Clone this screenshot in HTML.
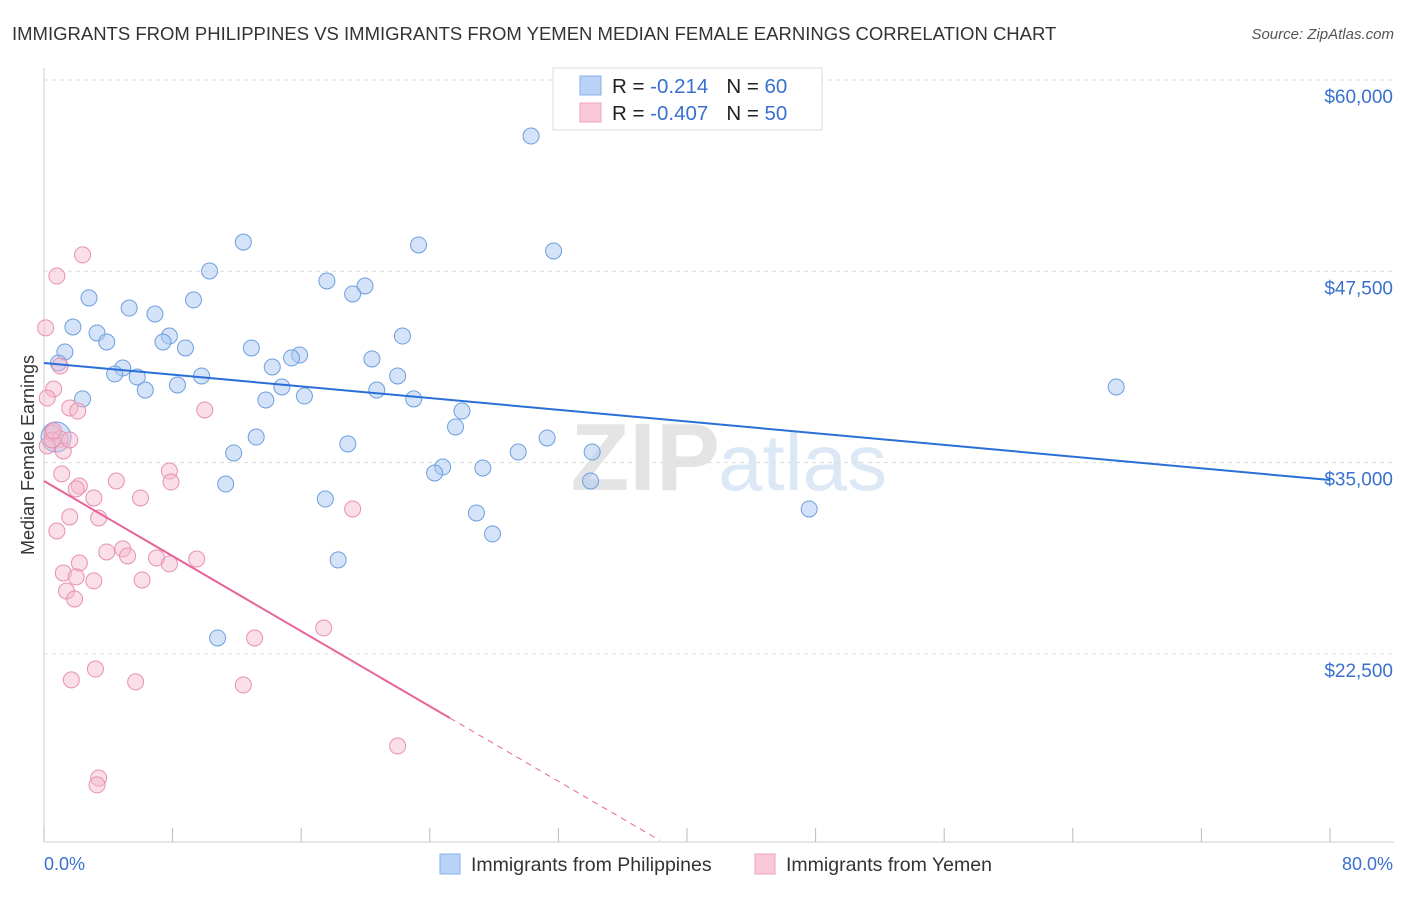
<!DOCTYPE html>
<html><head><meta charset="utf-8"><style>
body{margin:0;background:#fff;font-family:"Liberation Sans",sans-serif;}
svg text{font-family:"Liberation Sans",sans-serif;}
</style></head><body>
<svg width="1406" height="892">
<text x="12" y="40" font-size="18.5" fill="#333">IMMIGRANTS FROM PHILIPPINES VS IMMIGRANTS FROM YEMEN MEDIAN FEMALE EARNINGS CORRELATION CHART</text>
<text x="1394" y="39" font-size="15" fill="#555" text-anchor="end" font-style="italic">Source: ZipAtlas.com</text>
<text x="720" y="490" font-size="96" fill="#e4e4e4" text-anchor="end" font-family="Liberation Serif" font-weight="bold">ZIP</text>
<text x="718" y="490" font-size="80" fill="#dce8f5">atlas</text>
<g id="grid"></g>
<g id="axes"></g>
<text transform="translate(34,455) rotate(-90)" font-size="18" fill="#333" text-anchor="middle">Median Female Earnings</text>
<text x="44" y="870" font-size="18" fill="#3a70d0">0.0%</text>
<text x="1393" y="870" font-size="18" fill="#3a70d0" text-anchor="end">80.0%</text>
<g id="pts"></g>
<g id="trend"></g>
<g>
<rect x="553" y="68" width="269" height="62" fill="#fff" stroke="#ddd"/>
<rect x="580" y="76" width="21" height="19" fill="#b8d3f5" stroke="#8ab2e8"/>
<rect x="580" y="103" width="21" height="19" fill="#fac8d7" stroke="#f0a3bc"/>
<text x="612" y="93" font-size="20.5" fill="#222">R = <tspan fill="#3a70d0"> -0.214</tspan><tspan dx="18">N = </tspan><tspan fill="#3a70d0">60</tspan></text>
<text x="612" y="120" font-size="20.5" fill="#222">R = <tspan fill="#3a70d0">-0.407</tspan><tspan dx="18">N = </tspan><tspan fill="#3a70d0">50</tspan></text>
</g>
<g>
<rect x="440" y="854" width="20" height="20" fill="#b8d3f5" stroke="#8ab2e8"/>
<text x="471" y="871" font-size="19.5" fill="#333">Immigrants from Philippines</text>
<rect x="755" y="854" width="20" height="20" fill="#fac8d7" stroke="#f0a3bc"/>
<text x="786" y="871" font-size="19.5" fill="#333">Immigrants from Yemen</text>
</g>
</svg>
<script>
const yTicks=[60000,47500,35000,22500];
const yTickLabels=["$60,000","$47,500","$35,000","$22,500"];
const xTicks=[0,8,16,24,32,40,48,56,64,72,80];
const phX=[30.3,12.4,23.3,31.7,10.3,17.6,19.97,19.2,2.8,9.3,5.3,6.9,1.8,3.3,22.3,7.8,3.9,7.4,8.8,12.9,1.3,15.9,15.4,20.4,0.9,14.2,4.9,4.4,9.8,5.8,22.0,8.3,14.8,6.3,20.7,66.7,2.4,16.2,13.8,23.0,26.0,25.6,0.75,13.2,31.3,18.9,11.8,29.5,34.1,24.8,24.3,27.3,34.0,11.3,17.5,47.6,26.9,27.9,18.3,10.8];
const phY=[56340,49410,49220,48830,47520,46870,46540,46020,45760,45630,45100,44710,43860,43470,43270,43270,42880,42880,42490,42490,42230,42030,41840,41770,41510,41250,41180,40790,40660,40590,40660,40070,39940,39740,39740,39940,39160,39350,39090,39160,38370,37330,36670,36670,36610,36220,35630,35690,35690,34710,34320,34650,33800,33600,32620,31970,31710,30340,28640,23540];
const yeX=[2.4,0.8,0.1,1.0,0.6,0.2,1.6,2.1,10.0,0.5,1.0,0.2,1.2,0.5,1.1,7.8,4.5,7.9,2.2,2.0,3.1,6.0,19.2,1.6,3.4,0.8,3.9,4.9,5.2,7.0,9.5,7.8,2.2,1.2,2.0,6.1,3.1,1.4,1.9,13.1,17.4,3.2,1.7,5.7,12.4,22.0,3.4,3.3,1.6,0.6];
const yeY=[48570,47190,43800,41310,39810,39220,38570,38370,38440,36930,36540,36090,35760,36480,34260,34450,33800,33730,33470,33280,32690,32690,31970,31450,31380,30530,29160,29360,28900,28770,28700,28380,28440,27790,27530,27330,27270,26610,26090,23540,24190,21510,20800,20670,20470,16480,14390,13940,36480,37070];
const phTrend=[41510,33860];
const yeTrend=[33800,18310,10320];
const yeTrendX=[0,25.25,38.3];
const NS="http://www.w3.org/2000/svg";
const X=v=>44+v/80*1286;
const Y=v=>80+(60000-v)/12500*191.3;
function mk(t,a,p){const e=document.createElementNS(NS,t);for(const k in a)e.setAttribute(k,a[k]);p.appendChild(e);return e;}
const grid=document.getElementById('grid'),axes=document.getElementById('axes'),pts=document.getElementById('pts'),tr=document.getElementById('trend');
yTicks.forEach((v,i)=>{
 const l=mk('line',{x1:44,x2:1394,y1:Y(v),y2:Y(v),stroke:'#ddd','stroke-dasharray':'4,4'},grid);
 
 
 const t=mk('text',{x:1393,y:Y(v)+23,'font-size':19,fill:'#3a70d0','text-anchor':'end'},grid);
 t.textContent=yTickLabels[i];
 
 
});
const ax=mk('line',{x1:44,x2:44,y1:68,y2:842,stroke:'#ccc'},axes);


const bx=mk('line',{x1:44,x2:1394,y1:842,y2:842,stroke:'#ccc'},axes);


xTicks.forEach(v=>{
 const t=mk('line',{x1:X(v),x2:X(v),y1:828,y2:842,stroke:'#bbb'},axes);
 
 
});
phX.forEach((v,i)=>{
 const c=mk('circle',{cx:X(v),cy:Y(phY[i]),r:i==42?15:8,fill:'rgba(169,200,240,0.5)',stroke:'#6c9fe0','stroke-width':1},pts);
 
 
});
yeX.forEach((v,i)=>{
 const c=mk('circle',{cx:X(v),cy:Y(yeY[i]),r:8,fill:'rgba(245,184,204,0.45)',stroke:'#e890ae','stroke-width':1},pts);
 
 
});
const l1=mk('line',{x1:X(0),y1:Y(phTrend[0]),x2:X(80),y2:Y(phTrend[1]),stroke:'#2a6fd6','stroke-width':2},tr);


const l2=mk('line',{x1:X(yeTrendX[0]),y1:Y(yeTrend[0]),x2:X(yeTrendX[1]),y2:Y(yeTrend[1]),stroke:'#e8639a','stroke-width':2},tr);


const l3=mk('line',{x1:X(yeTrendX[1]),y1:Y(yeTrend[1]),x2:X(yeTrendX[2]),y2:Y(yeTrend[2]),stroke:'#e8639a','stroke-width':1,'stroke-dasharray':'6,5'},tr);


</script>
</body></html>
